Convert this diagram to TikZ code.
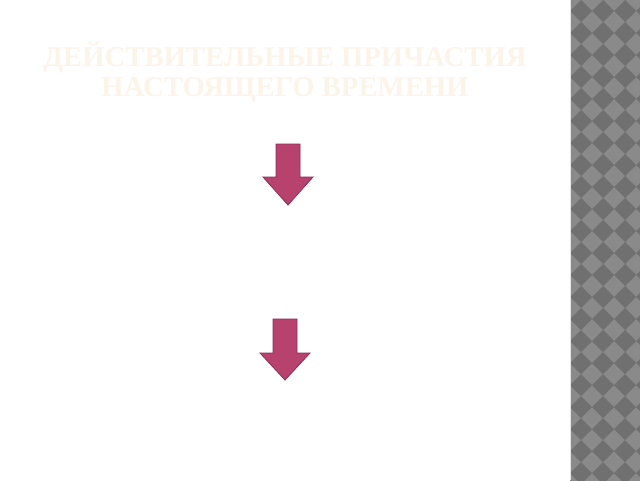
\documentclass[tikz,border=0pt]{standalone}
\usepackage{fontspec}
\setmainfont{Liberation Serif}
\definecolor{arrowfill}{RGB}{184,66,110}
\definecolor{arrowedge}{RGB}{140,45,85}
\definecolor{titlecol}{RGB}{252,244,233}
\definecolor{checklight}{RGB}{138,138,138}
\definecolor{checkdark}{RGB}{112,112,112}
\tikzset{
  downarrow/.style={fill=arrowfill, draw=arrowedge, line width=0.8pt, line join=miter},
  titletext/.style={text=titlecol, font=\bfseries\fontsize{28.7}{30}\selectfont, align=center}
}
\begin{document}
\begin{tikzpicture}[x=1pt,y=-1pt]
\useasboundingbox (0,0) rectangle (640,480);
\fill[white] (0,0) rectangle (640,480);
% right checkered strip
\begin{scope}
\clip (570,-2) rectangle (642,482);
\fill[checklight] (570,-2) rectangle (642,482);
\foreach \i in {0,...,4} {
  \foreach \j in {0,...,23} {
    \fill[checkdark] ({570+22*\i},{11+22*\j}) -- ++(11,-11) -- ++(11,11) -- ++(-11,11) -- cycle;
  }
}
\end{scope}
\draw[white!80!gray, line width=1pt] (570,0) -- (570,480);
% title
\node[titletext] (title) at (285,72) {ДЕЙСТВИТЕЛЬНЫЕ ПРИЧАСТИЯ\\НАСТОЯЩЕГО ВРЕМЕНИ};
% arrows
\draw[downarrow] (276,144) -- (300,144) -- (300,177) -- (313,177) -- (288,205) -- (263,177) -- (276,177) -- cycle;
\draw[downarrow] (273,319) -- (297,319) -- (297,353) -- (310,353) -- (285,380) -- (260,353) -- (273,353) -- cycle;
\end{tikzpicture}
\end{document}
